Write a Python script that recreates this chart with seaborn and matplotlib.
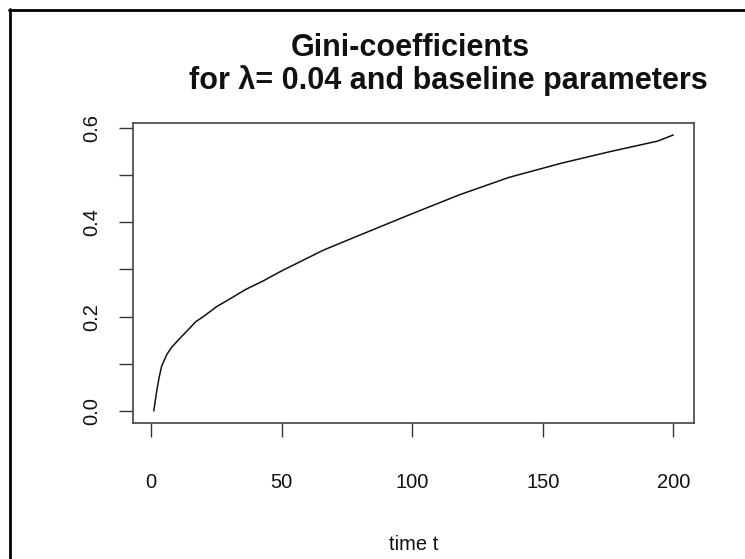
import matplotlib
matplotlib.use("Agg")
import matplotlib.pyplot as plt
from matplotlib.lines import Line2D
import seaborn as sns
import pandas as pd

# values
t_values = [1, 2, 3, 4, 6, 8, 11, 15, 17, 20, 25, 30, 36, 43, 50, 58, 66,
            80, 99, 118, 137, 157, 176, 194, 200]
gini_values = [0.0, 0.038, 0.07, 0.095, 0.12, 0.136, 0.154, 0.177, 0.189,
               0.2, 0.221, 0.237, 0.257, 0.276, 0.297, 0.319, 0.341, 0.373,
               0.416, 0.458, 0.495, 0.525, 0.550, 0.572, 0.585]
x_ticks = [0, 50, 100, 150, 200]
y_ticks = [0.0, 0.1, 0.2, 0.3, 0.4, 0.5, 0.6]
y_tick_labels = ["0.0", "", "0.2", "", "0.4", "", "0.6"]
title_line1 = "Gini-coefficients"
title_line2 = "for \u03bb= 0.04 and baseline parameters"
x_label = "time t"

sns.set_style("ticks")
plt.rcParams["font.family"] = ["Liberation Sans", "DejaVu Sans"]

W, H = 745, 559
fig = plt.figure(figsize=(W / 100, H / 100), dpi=100)
ax = fig.add_axes([133 / W, 1 - 423 / H, (694 - 133) / W, (423 - 123) / H])

df = pd.DataFrame({"t": t_values, "gini": gini_values})
sns.lineplot(data=df, x="t", y="gini", ax=ax, color="#111111", linewidth=1.1)

xr = max(t_values) - min(t_values)
ax.set_xlim(min(t_values) - 0.04 * xr, max(t_values) + 0.04 * xr)
yr = max(gini_values) - min(gini_values)
ax.set_ylim(min(gini_values) - 0.04 * yr - 0.002, max(gini_values) + 0.04 * yr + 0.002)

ax.set_xticks(x_ticks)
ax.set_xticklabels([str(v) for v in x_ticks])
ax.set_yticks(y_ticks)
ax.set_yticklabels(y_tick_labels, rotation=90, va="center")
ax.tick_params(axis="both", direction="out", length=10, width=1.0,
               color="#333333", labelsize=14.5, labelcolor="#111111")
ax.tick_params(axis="x", pad=26)
ax.tick_params(axis="y", pad=13)
for s in ax.spines.values():
    s.set_visible(True)
    s.set_color("#444444")
    s.set_linewidth(1.2)

ax.set_xlabel("")
ax.set_ylabel("")
fig.text(413.5 / W, 1 - 545 / H, x_label, ha="center", va="center",
         fontsize=14.5, color="#111111")

fig.text(410 / W, 1 - 48 / H, title_line1, ha="center", va="center",
         fontsize=22, fontweight="bold", color="#111111")
fig.text(448 / W, 1 - 81 / H, title_line2, ha="center", va="center",
         fontsize=22, fontweight="bold", color="#111111")

# outer screenshot frame (top and left edges)
fig.add_artist(Line2D([9 / W, 1.0], [1 - 9.5 / H, 1 - 9.5 / H],
                      transform=fig.transFigure, color="black", linewidth=2.0))
fig.add_artist(Line2D([9.5 / W, 9.5 / W], [0.0, 1 - 9 / H],
                      transform=fig.transFigure, color="black", linewidth=2.0))

fig.savefig("out.png", dpi=100)
